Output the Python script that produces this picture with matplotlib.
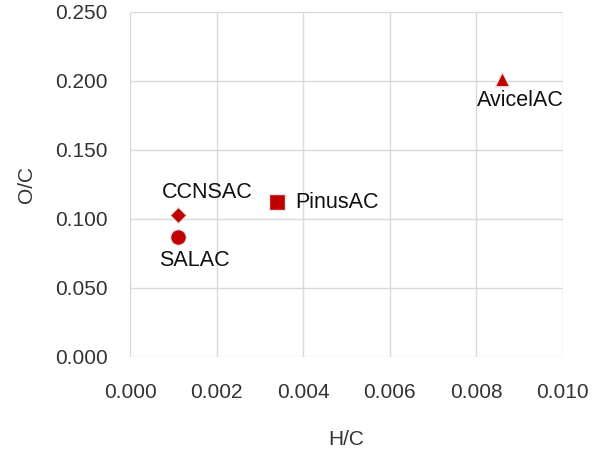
import matplotlib.pyplot as plt

plt.rcParams['font.family'] = ['Liberation Sans', 'DejaVu Sans']

# sample names and their atomic ratios
names = ['SALAC', 'CCNSAC', 'PinusAC', 'AvicelAC']
hc = [0.0011, 0.0011, 0.0034, 0.0086]
oc = [0.087, 0.103, 0.112, 0.201]
markers = ['o', 'D', 's', '^']
sizes = [130, 70, 130, 110]

fig = plt.figure(figsize=(6.0, 4.53), dpi=100)
ax = fig.add_axes([0.217, 0.212, 0.721, 0.762])

for x, y, m, s in zip(hc, oc, markers, sizes):
    ax.scatter(x, y, marker=m, s=s, color='#C00000', edgecolors='#E6E6E6',
               linewidths=1.0, zorder=3)

# label placement (points): below-right, above-right, right, below-right
offsets = [(12, -17, 'center', 'center'), (21, 16, 'center', 'center'),
           (13, 0, 'left', 'center'), (13, -15, 'center', 'center')]
for name, x, y, (dx, dy, ha, va) in zip(names, hc, oc, offsets):
    ax.annotate(name, (x, y), xytext=(dx, dy), textcoords='offset points',
                ha=ha, va=va, fontsize=15.5, color='#111111')

ax.set_xlim(0, 0.010)
ax.set_ylim(0, 0.250)
ax.set_xticks([0.000, 0.002, 0.004, 0.006, 0.008, 0.010])
ax.set_yticks([0.000, 0.050, 0.100, 0.150, 0.200, 0.250])
ax.set_xticklabels(['0.000', '0.002', '0.004', '0.006', '0.008', '0.010'])
ax.set_yticklabels(['0.000', '0.050', '0.100', '0.150', '0.200', '0.250'])
ax.tick_params(length=0, labelsize=15, colors='#333333')
ax.tick_params(axis='y', pad=16)
ax.tick_params(axis='x', pad=19)

ax.grid(True, color='#D9D9D9', linewidth=1.0)
for sp in ax.spines.values():
    sp.set_visible(False)
ax.set_axisbelow(True)

ax.set_xlabel('H/C', fontsize=15, color='#333333', labelpad=20)
ax.set_ylabel('O/C', fontsize=15, color='#333333', labelpad=14)

fig.savefig('out.png', dpi=100)
